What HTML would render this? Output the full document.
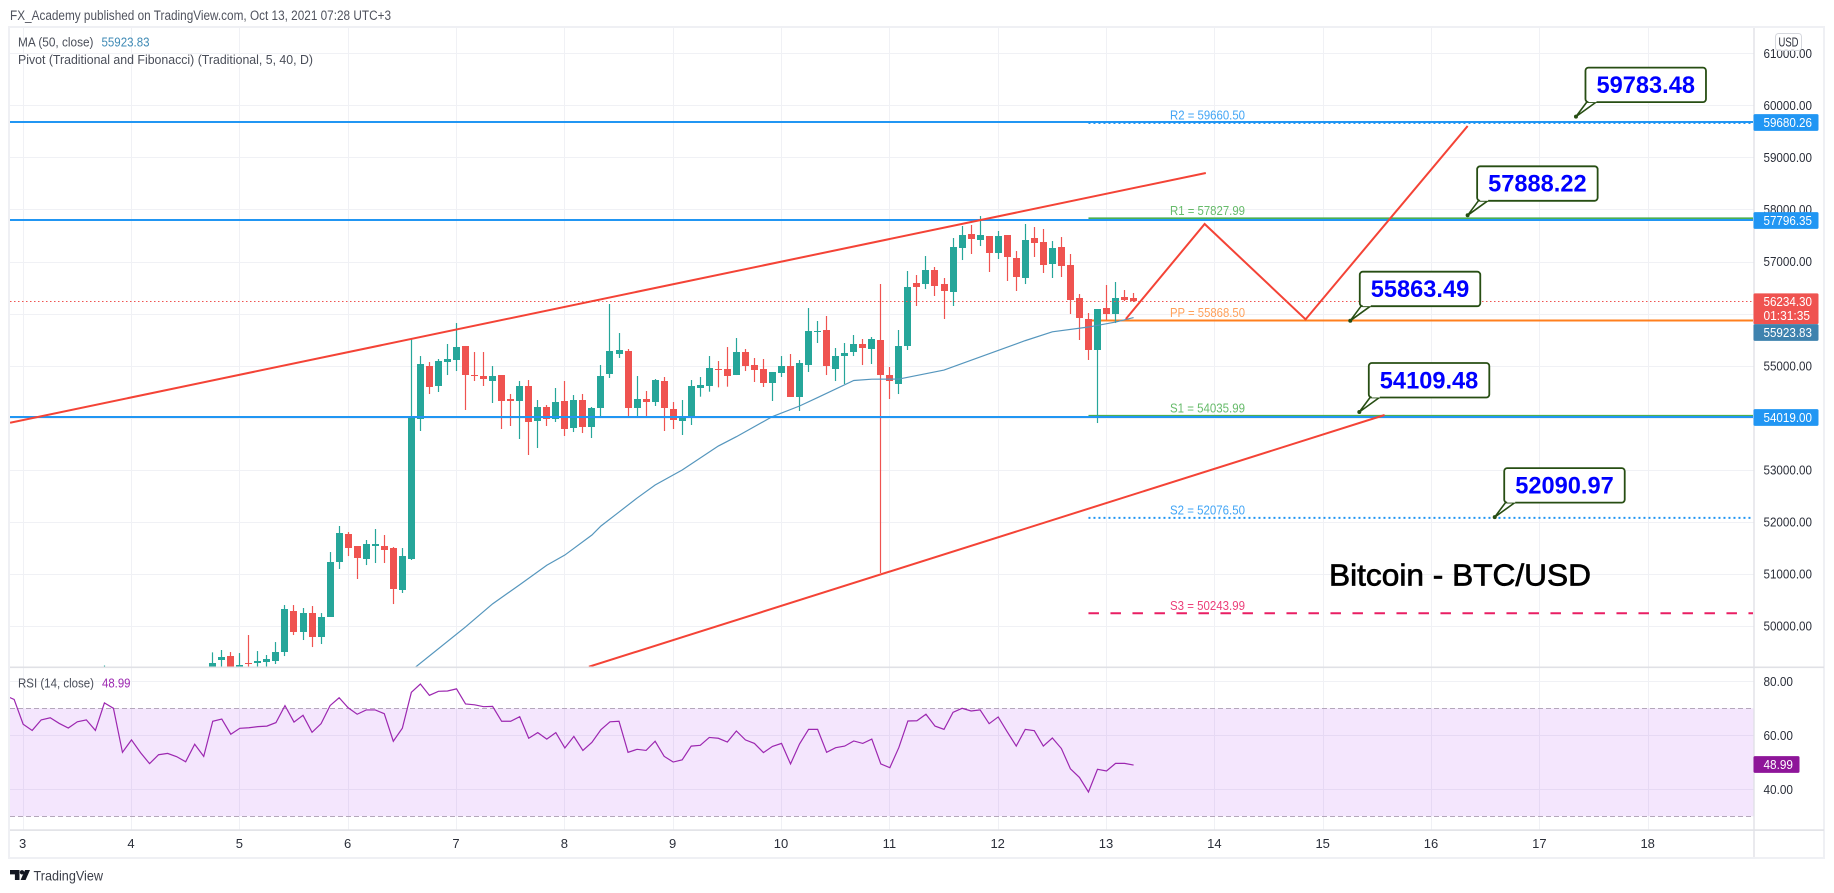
<!DOCTYPE html>
<html lang="en">
<head>
<meta charset="utf-8">
<title>BTC/USD chart</title>
<style>
html,body{margin:0;padding:0;background:#fff;}
svg{display:block;font-family:"Liberation Sans",sans-serif;}
</style>
</head>
<body>
<svg id="chart" xmlns="http://www.w3.org/2000/svg" width="1834" height="893" viewBox="0 0 1834 893">
  <defs>
    <clipPath id="main-clip"><rect x="10" y="28" width="1743" height="639"/></clipPath>
    <clipPath id="rsi-clip"><rect x="10" y="668" width="1743" height="162"/></clipPath>
  </defs>
  <rect x="0" y="0" width="1834" height="893" fill="#ffffff"/>
  <text x="10" y="20" font-size="13.5" fill="#50535e" textLength="381" lengthAdjust="spacingAndGlyphs">FX_Academy published on TradingView.com, Oct 13, 2021 07:28 UTC+3</text>
  <rect x="9" y="27" width="1815" height="831" fill="none" stroke="#eff0f4" stroke-width="2"/>

  <g id="grid"></g>
  <g id="rsi-band"></g>
  <g id="pivots" clip-path="url(#main-clip)"></g>
  <g id="candles" clip-path="url(#main-clip)"></g>
  <g id="ma" clip-path="url(#main-clip)"></g>
  <g id="drawings" clip-path="url(#main-clip)"></g>
  <g id="callouts"></g>
  <g id="rsi" clip-path="url(#rsi-clip)"></g>

  <rect x="10" y="666.5" width="1814" height="1.6" fill="#e0e1e6"/>
  <rect x="10" y="829.3" width="1814" height="1.6" fill="#e0e1e6"/>
  <rect x="1753.3" y="28" width="1.4" height="829" fill="#e0e1e6"/>

  <g id="axes"></g>
  <g id="tags"></g>

  <text x="1329" y="585.5" font-size="31" fill="#000000" stroke="#000000" stroke-width="0.7" textLength="262" lengthAdjust="spacingAndGlyphs">Bitcoin - BTC/USD</text>

  <g>
    <text x="18" y="46.5" font-size="13" fill="#4a4e59" textLength="75.5" lengthAdjust="spacingAndGlyphs">MA (50, close)</text>
    <text x="101.5" y="46.5" font-size="13" fill="#3f8ab5" textLength="48" lengthAdjust="spacingAndGlyphs">55923.83</text>
    <text x="18" y="63.8" font-size="13" fill="#4a4e59" textLength="295" lengthAdjust="spacingAndGlyphs">Pivot (Traditional and Fibonacci) (Traditional, 5, 40, D)</text>
    <text x="18" y="687.4" font-size="13" fill="#4a4e59" textLength="76" lengthAdjust="spacingAndGlyphs">RSI (14, close)</text>
    <text x="102" y="687.4" font-size="13" fill="#9c27b0" textLength="28.5" lengthAdjust="spacingAndGlyphs">48.99</text>
  </g>

  <g>
    <rect x="1775.5" y="33.5" width="26" height="17" rx="3" fill="#ffffff" fill-opacity="0.85" stroke="#d6d8de" stroke-width="1"/>
    <text x="1788.5" y="46.5" font-size="13" fill="#2a2e39" text-anchor="middle" textLength="20" lengthAdjust="spacingAndGlyphs">USD</text>
  </g>

  <g>
    <path d="M10 870h9.5v10h-4.6v-5.6H10z" fill="#131722"/>
    <circle cx="22" cy="872.3" r="2.2" fill="#131722"/>
    <path d="M25 870h5l-4.4 10h-5z" fill="#131722"/>
    <text x="33.5" y="880.5" font-size="14" fill="#3a3d47" textLength="69.5" lengthAdjust="spacingAndGlyphs">TradingView</text>
  </g>
</svg>
<script>
const firstBar = -39;
const opens = [48900,49050,48950,48700,48800,48650,48500,48700,48850,48750,48900,49000,49100,49346,49422,49150,49288,49288,49307,49326,49499,50287,49883,50248,49787,50172,51228,51766,51535,51286,51535,51535,51497,50690,51286,
53975,54993,54609,55070,55109,55378,54820,54801,54705,54820,54359,54321,54609,53937,54206,53975,54321,53802,54340,53822,54186,54840,55224,55282,54186,54359,54302,54705,54167,53937,54014,54571,54609,54936,54936,54820,55262,55012,54936,54667,54859,54993,54398,55012,55646,55685,54936,55185,55262,55416,55320,55493,54820,54648,55377,56588,56568,56837,56568,56415,57260,57529,57414,57490,57164,57510,57068,56684,57452,57375,56953,57279,56933,56300,55896,55301,56107,55992,56319,56300];
const highs = [49240,49150,49050,48900,49000,48850,48800,48950,49050,49000,49100,49150,49493,49538,49499,49480,49826,49518,49442,49691,50402,50402,50345,50383,50248,51420,51920,51804,51535,51651,51862,51747,51516,51497,55506,
55185,55070,55128,55416,55819,55378,55262,55262,54993,54820,54456,54705,54724,54340,54244,54571,54705,54436,54456,54206,55013,56184,55627,55320,54801,54513,54744,54782,54302,54340,54724,54782,55185,55089,55358,55531,55320,55147,55128,54878,55185,55224,55109,56107,55858,55954,55339,55435,55589,55512,55550,56568,54974,55685,56818,56741,57106,56895,56684,57452,57683,57702,57875,57490,57587,57510,57202,57721,57663,57625,57394,57471,57145,56376,56011,56088,56549,56607,56453,56396];
const lows = [48700,48800,48500,48450,48600,48300,48350,48600,48600,48650,48700,48850,49050,49150,49100,49100,49100,49100,49211,49269,49422,49826,49730,49595,49653,50172,51094,51343,50902,51170,51209,51209,50421,50633,51266,
53745,54455,54494,54820,54897,54148,54705,54609,54283,53783,53841,53591,53284,53418,53841,53918,53649,53725,53706,53610,54033,54763,55147,54033,54033,54033,54225,53745,53783,53668,53860,54404,54500,54584,54596,54820,54897,54686,54590,54321,54782,54398,54129,54878,55435,54820,54705,54648,55185,55012,55032,51017,54359,54455,55301,56146,56472,56338,55896,56146,57029,57145,57298,56799,57049,56626,56434,56568,57087,56780,56684,56703,55992,55493,55109,53898,55877,55819,56242,56223];
const closes = [49050,48950,48700,48800,48650,48500,48700,48850,48750,48900,49000,49100,49288,49403,49180,49250,49269,49326,49365,49499,50325,49883,50248,49787,50172,51228,51785,51497,51305,51574,51574,51459,50709,51343,53994,
55032,54590,55089,55128,55358,54820,54801,54744,54801,54321,54321,54609,53918,54206,53975,54302,53783,54340,53822,54186,54801,55282,55301,54186,54359,54302,54724,54186,53956,54033,54609,54628,54955,54916,54801,55262,54993,54916,54667,54878,54993,54398,55051,55666,55666,54993,55185,55243,55416,55339,55512,54820,54705,55377,56511,56511,56837,56530,56434,57279,57510,57433,57510,57164,57490,57087,56703,57414,57356,56933,57260,56914,56261,55915,55301,56088,55992,56300,56261,56234.3];

const maBars = [-5,1,4,7,10,12,15,16,18,20,22,25,29,31,35,38,40,44,46,49,54,60,63,66,70,73,75];
const maValues = [49146,49981,50425,50792,51166,51362,51747,51920,52188,52457,52707,52995,53456,53635,54023,54225,54388,54715,54740,54743,54916,55293,55481,55650,55742,55838,55923.83];

const rsiFirstBar = -50;
const rsiValues = [74.7,73.3,64.1,61.8,65.7,66.5,64.4,62.7,65.0,65.7,61.8,72.0,70.0,53.7,58.3,53.6,49.5,52.8,53.3,52.1,50.2,56.7,52.2,65.2,66.0,60.4,62.6,62.8,63.2,63.4,64.7,71.0,64.9,67.4,61.1,64.3,71.0,73.9,70.2,67.8,69.4,69.4,68.0,57.8,62.6,75.9,79.0,74.8,76.3,76.4,77.2,71.6,71.3,70.6,70.7,65.2,65.2,66.9,58.9,61.0,58.6,61.0,55.3,59.6,54.4,57.4,62.1,65.0,65.2,53.7,54.8,54.4,57.8,52.2,50.1,50.9,56.0,56.3,59.2,58.9,57.5,61.6,58.3,57.0,53.6,55.9,57.0,49.4,56.8,62.2,62.2,53.7,55.4,56.0,57.9,57.0,58.6,49.4,48.0,55.5,65.3,65.4,67.8,63.4,62.2,68.5,70.0,69.0,69.4,64.3,66.8,61.3,56.0,62.2,61.7,56.0,59.0,55.1,47.6,44.4,39.0,47.4,46.8,49.6,49.6,48.99];

const priceTicks = [61000,60000,59000,58000,57000,56000,55000,54000,53000,52000,51000,50000];
const priceTickLabels = ["61000.00","60000.00","59000.00","58000.00","57000.00","","55000.00","","53000.00","52000.00","51000.00","50000.00"];
const rsiGridTicks = [80,60,40];
const rsiTickLabels = ["80.00","60.00","40.00"];
const rsiBandLevels = [70,30];
const dayLabels = [3,4,5,6,7,8,9,10,11,12,13,14,15,16,17,18];
const dayZero = 7;
const barsPerDay = 12;

const pivotNames = ["R2","R1","PP","S1","S2","S3"];
const pivotValues = [59660.50,57827.99,55868.50,54035.99,52076.50,50243.99];
const pivotStartBar = 70;

const levelValues = [59680.26,57796.35,54019.00];
const lastPrice = 56234.30;
const countdownLabel = "01:31:35";
const lastMa = 55923.83;
const lastRsi = 48.99;

const upperTrendBars = [-49.45,83.0];
const upperTrendPrices = [53904,58701];
const lowerTrendBars = [14.67,102.8];
const lowerTrendPrices = [49217,54052];
const zigzagBars = [74.14,82.87,94.05,112.0];
const zigzagPrices = [55896,57721,55890,59603];

const calloutValues = [59783.48,57888.22,55863.49,54109.48,52090.97];
const calloutBars = [124,112,99,100,115];

const NS = "http://www.w3.org/2000/svg";
const PANE_LEFT = 10, PANE_RIGHT = 1753.5;
const GRID_COLOR = "#f0f1f5";

function xOfBar(i){ return 456.5 + 9.028 * i; }
function yOfPrice(p){ return 53.3 + (61000 - p) * 0.05206; }
function yOfRsi(r){ return 681.3 + (80 - r) * 2.7; }
function make(parent, tag, attrs){
  const el = document.createElementNS(NS, tag);
  for (const k in attrs) el.setAttribute(k, attrs[k]);
  parent.appendChild(el);
  return el;
}
function polyPoints(xs, ys){
  return xs.map(function(v, k){ return v.toFixed(2) + "," + ys[k].toFixed(2); }).join(" ");
}

/* grid */
const gridG = document.getElementById("grid");
dayLabels.forEach(function(d){
  const x = Math.floor(xOfBar((d - dayZero) * barsPerDay)) + 0.5;
  const v = make(gridG, "line", {x1:x, x2:x, y1:28, y2:830, stroke:GRID_COLOR, "stroke-width":1});
  
  
});
priceTicks.forEach(function(p){
  const y = Math.round(yOfPrice(p)) + 0.5;
  const h = make(gridG, "line", {x1:PANE_LEFT, x2:PANE_RIGHT, y1:y, y2:y, stroke:GRID_COLOR, "stroke-width":1});
  
  
});
rsiGridTicks.forEach(function(r){
  const y = Math.round(yOfRsi(r)) + 0.5;
  const h = make(gridG, "line", {x1:PANE_LEFT, x2:PANE_RIGHT, y1:y, y2:y, stroke:GRID_COLOR, "stroke-width":1});
  
  
});

/* rsi band */
const bandG = document.getElementById("rsi-band");
const bandRect = make(bandG, "rect", {x:PANE_LEFT, width:PANE_RIGHT-PANE_LEFT, y:yOfRsi(rsiBandLevels[0]), height:yOfRsi(rsiBandLevels[1])-yOfRsi(rsiBandLevels[0]), fill:"#9105eb", "fill-opacity":0.1});


rsiBandLevels.forEach(function(r){
  const y = Math.round(yOfRsi(r)) + 0.5;
  const l = make(bandG, "line", {x1:PANE_LEFT, x2:PANE_RIGHT, y1:y, y2:y, stroke:"#b4a7bb", "stroke-width":1, "stroke-dasharray":"5 3"});
  
  
});

/* pivots */
const pivotStyle = {
  R2:{c:"#2196f3",t:"#42a5f5",w:2,d:"2 3"},
  R1:{c:"#4caf50",t:"#66bb6a",w:2,d:""},
  PP:{c:"#ff7f1e",t:"#ffa05a",w:2,d:""},
  S1:{c:"#4caf50",t:"#66bb6a",w:2,d:""},
  S2:{c:"#2196f3",t:"#42a5f5",w:2,d:"2 3"},
  S3:{c:"#e91e63",t:"#ec407a",w:2,d:"10.5 11.5"}
};
const pivotG = document.getElementById("pivots");
pivotNames.forEach(function(n, k){
  const s = pivotStyle[n];
  const y = yOfPrice(pivotValues[k]);
  const attrs = {x1:xOfBar(pivotStartBar), x2:PANE_RIGHT, y1:y, y2:y, stroke:s.c, "stroke-width":s.w};
  if (s.d) attrs["stroke-dasharray"] = s.d;
  const l = make(pivotG, "line", attrs);
  
  
  const t = make(pivotG, "text", {x:1207.5, y:y-3.5, "font-size":12.5, fill:s.t, "text-anchor":"middle", textLength:75, lengthAdjust:"spacingAndGlyphs"});
  
  
  t.textContent = n + " = " + pivotValues[k].toFixed(2);
});

/* candles */
const candleG = document.getElementById("candles");
opens.forEach(function(o, k){
  const bar = firstBar + k;
  const c = closes[k];
  const up = c >= o;
  const col = up ? "#26a69a" : "#ef5350";
  const cx = Math.floor(xOfBar(bar)) + 0.5;
  const g = make(candleG, "g", {});
  
  
  const w = make(g, "line", {x1:cx, x2:cx, y1:yOfPrice(highs[k]), y2:yOfPrice(lows[k]), stroke:col, "stroke-width":1.2});
  
  
  const top = Math.round(yOfPrice(Math.max(o, c)));
  const bot = Math.round(yOfPrice(Math.min(o, c)));
  const b = make(g, "rect", {x:cx-3.5, width:7, y:top, height:Math.max(1, bot-top), fill:col});
  
  
});

/* moving average */
const maLine = make(document.getElementById("ma"), "polyline", {points:polyPoints(maBars.map(xOfBar), maValues.map(yOfPrice)), fill:"none", stroke:"#5596bd", "stroke-width":1.2});



/* drawings */
const drawG = document.getElementById("drawings");
levelValues.forEach(function(v){
  const y = Math.round(yOfPrice(v));
  const l = make(drawG, "line", {x1:PANE_LEFT, x2:PANE_RIGHT, y1:y, y2:y, stroke:"#2196f3", "stroke-width":2});
  
  
});
const lastLine = make(drawG, "line", {x1:PANE_LEFT, x2:PANE_RIGHT, y1:Math.round(yOfPrice(lastPrice))+0.5, y2:Math.round(yOfPrice(lastPrice))+0.5, stroke:"#ef5350", "stroke-width":1, "stroke-dasharray":"1.5 2.5"});


const upperTrend = make(drawG, "polyline", {points:polyPoints(upperTrendBars.map(xOfBar), upperTrendPrices.map(yOfPrice)), fill:"none", stroke:"#f44336", "stroke-width":2});


const lowerTrend = make(drawG, "polyline", {points:polyPoints(lowerTrendBars.map(xOfBar), lowerTrendPrices.map(yOfPrice)), fill:"none", stroke:"#f44336", "stroke-width":2});


const zigzag = make(drawG, "polyline", {points:polyPoints(zigzagBars.map(xOfBar), zigzagPrices.map(yOfPrice)), fill:"none", stroke:"#f44336", "stroke-width":2});



/* callouts */
const calloutG = document.getElementById("callouts");
calloutValues.forEach(function(v, k){
  const tx = xOfBar(calloutBars[k]);
  const ty = yOfPrice(v);
  const left = tx + 9.5, top = ty - 49, width = 120.5, height = 34.5;
  const g = make(calloutG, "g", {});
  
  
  const tail = make(g, "polygon", {points:[(tx+11.5)+","+(top+height-1), (tx+21.5)+","+(top+height-1), tx+","+ty].join(" "), fill:"#ffffff", stroke:"#274e13", "stroke-width":1.6, "stroke-linejoin":"round"});
  
  
  const box = make(g, "rect", {x:left, y:top, width:width, height:height, rx:3, fill:"#ffffff", stroke:"#274e13", "stroke-width":1.8});
  
  
  const mend = make(g, "line", {x1:tx+12.5, x2:tx+20.5, y1:top+height-0.9, y2:top+height-0.9, stroke:"#ffffff", "stroke-width":1.8});
  
  
  const dot = make(g, "circle", {cx:tx, cy:ty, r:2, fill:"#274e13"});
  
  
  const t = make(g, "text", {x:left+width/2, y:top+25.3, "font-size":24, "font-weight":"bold", fill:"#0000ff", "text-anchor":"middle", textLength:98.5, lengthAdjust:"spacingAndGlyphs"});
  
  
  t.textContent = v.toFixed(2);
});

/* rsi line */
const rsiLine = make(document.getElementById("rsi"), "polyline", {points:polyPoints(rsiValues.map(function(_, k){ return xOfBar(rsiFirstBar + k); }), rsiValues.map(yOfRsi)), fill:"none", stroke:"#9c27b0", "stroke-width":1.2});



/* axis labels */
const axisG = document.getElementById("axes");
priceTicks.forEach(function(p, k){
  if (!priceTickLabels[k]) return;
  const t = make(axisG, "text", {x:1763.5, y:yOfPrice(p)+4.6, "font-size":13, fill:"#2a2e39", textLength:48.5, lengthAdjust:"spacingAndGlyphs"});
  
  
  t.textContent = priceTickLabels[k];
});
rsiGridTicks.forEach(function(r, k){
  const t = make(axisG, "text", {x:1763.5, y:yOfRsi(r)+4.6, "font-size":13, fill:"#2a2e39", textLength:29.5, lengthAdjust:"spacingAndGlyphs"});
  
  
  t.textContent = rsiTickLabels[k];
});
dayLabels.forEach(function(d){
  const t = make(axisG, "text", {x:xOfBar((d - dayZero) * barsPerDay)-0.5, y:848, "font-size":13, fill:"#2a2e39", "text-anchor":"middle"});
  
  
  t.textContent = String(d);
});

/* price tags */
const tagG = document.getElementById("tags");
levelValues.forEach(function(v){
  const cy = Math.round(yOfPrice(v)) + 0.5;
  const r = make(tagG, "rect", {x:1753.5, y:cy-8.4, width:65, height:16.8, rx:1.5, fill:"#2196f3"});
  
  
  const t = make(tagG, "text", {x:1763.5, y:cy+4.6, "font-size":13, fill:"#ffffff", textLength:48.5, lengthAdjust:"spacingAndGlyphs"});
  
  
  t.textContent = v.toFixed(2);
});
const lastY = yOfPrice(lastPrice);
const lastTag = make(tagG, "rect", {x:1753.5, y:lastY-8, width:65, height:30.7, rx:1.5, fill:"#ef5350"});


const lastTxt = make(tagG, "text", {x:1763.5, y:lastY+4.8, "font-size":13, fill:"#ffffff", textLength:48.5, lengthAdjust:"spacingAndGlyphs"});


lastTxt.textContent = lastPrice.toFixed(2);
const cdTxt = make(tagG, "text", {x:1763.5, y:lastY+18.8, "font-size":13, fill:"#ffffff", textLength:46.5, lengthAdjust:"spacingAndGlyphs"});


cdTxt.textContent = countdownLabel;
const maTagY = lastY + 22.7;
const maTag = make(tagG, "rect", {x:1753.5, y:maTagY, width:65, height:16.8, rx:1.5, fill:"#3f82ae"});


const maTxt = make(tagG, "text", {x:1763.5, y:maTagY+13, "font-size":13, fill:"#ffffff", textLength:48.5, lengthAdjust:"spacingAndGlyphs"});


maTxt.textContent = lastMa.toFixed(2);
const rsiCy = yOfRsi(lastRsi) - 0.5;
const rsiTag = make(tagG, "rect", {x:1753.5, y:rsiCy-8.4, width:46, height:16.8, rx:1.5, fill:"#8e1599"});


const rsiTxt = make(tagG, "text", {x:1763.5, y:rsiCy+4.6, "font-size":13, fill:"#ffffff", textLength:29.5, lengthAdjust:"spacingAndGlyphs"});


rsiTxt.textContent = lastRsi.toFixed(2);
</script>
</body>
</html>
